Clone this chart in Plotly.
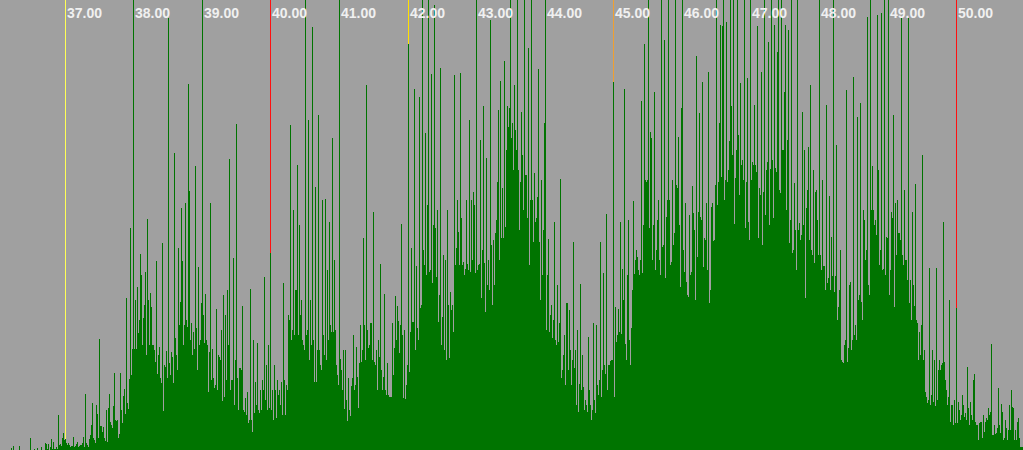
import plotly.graph_objects as go

heights = [
0,0,0,0,0,0,0,0,0,0,
0,2,0,4,0,0,0,0,0,4,
0,0,0,0,0,0,0,0,0,0,
12,0,0,0,1,0,0,2,0,0,
0,3,0,0,0,7,6,1,6,0,
3,11,1,8,1,1,3,1,35,5,
6,4,12,17,10,11,7,5,7,5,
3,4,4,13,3,4,6,8,3,4,
5,5,7,13,3,56,7,5,3,11,
15,25,47,12,10,7,45,36,12,111,
24,24,18,23,12,9,40,8,42,56,
28,25,22,44,77,30,29,30,12,16,
77,40,27,54,61,36,152,47,41,71,
222,75,101,450,101,150,101,163,117,130,
196,175,105,132,145,178,95,231,150,105,
157,143,105,105,100,88,189,76,95,103,
72,67,207,39,85,83,99,72,432,87,
75,98,93,67,297,112,95,80,202,125,
148,242,189,105,125,247,130,123,366,259,
110,127,95,118,101,284,122,80,183,105,
110,147,450,135,107,156,110,105,58,98,
247,70,101,72,62,65,141,60,95,93,
90,120,49,155,53,135,70,160,105,291,
60,70,70,192,45,90,326,72,40,82,
82,80,144,40,38,52,35,58,27,30,
161,30,18,110,37,68,45,107,40,37,
60,40,70,60,173,50,85,40,105,42,
197,40,60,30,85,60,32,70,55,60,
45,68,35,167,70,35,65,60,135,130,
325,110,120,240,115,160,160,285,115,225,
135,150,110,105,100,450,115,120,330,90,
150,105,423,110,68,263,68,100,335,100,
85,80,250,115,95,251,90,180,110,228,
125,118,312,118,190,120,85,75,65,450,
91,80,60,100,41,100,50,29,72,40,
34,64,72,115,60,65,103,73,42,87,
125,88,100,212,125,90,365,120,102,105,
127,127,90,238,88,85,100,60,110,93,
186,80,60,73,156,60,55,87,55,53,
53,53,127,75,102,154,110,144,129,97,
125,226,115,52,120,51,65,85,406,78,
118,202,128,128,361,100,184,122,110,353,
142,145,450,200,185,317,175,245,450,178,
180,376,167,225,445,222,173,240,128,155,
382,105,133,195,100,190,90,240,145,92,
158,140,145,118,375,185,202,250,218,185,
377,232,185,188,175,181,250,186,180,330,
178,250,190,258,245,177,450,180,185,186,
310,152,200,344,187,138,292,165,190,160,
430,205,145,210,165,217,230,268,340,190,
369,212,262,212,389,223,300,344,323,342,
450,312,327,280,365,320,300,450,280,220,
268,338,295,240,450,275,275,232,402,185,
250,450,250,208,277,228,232,253,381,208,
150,270,175,220,327,450,120,175,211,118,
135,145,112,130,228,110,105,165,108,127,
271,72,80,95,115,65,147,147,80,140,
100,65,90,208,82,100,45,120,38,66,
166,60,95,63,40,50,45,38,113,60,
45,30,40,127,50,37,125,65,55,70,
208,53,80,177,85,76,236,60,85,85,
89,90,90,368,53,143,108,115,141,118,
228,116,181,150,361,106,90,175,230,110,
85,122,160,249,176,190,200,193,180,175,
190,349,177,225,406,270,268,270,450,222,
318,312,190,225,358,180,200,230,250,190,
175,450,203,205,410,172,233,250,450,250,
185,188,270,205,217,450,265,262,313,225,
163,342,450,200,178,247,168,155,153,235,
175,178,264,237,220,150,394,193,238,337,
233,230,368,183,212,210,247,180,378,147,
160,243,247,209,210,265,450,245,268,327,
425,273,424,450,250,270,428,268,280,309,
450,344,295,450,226,272,300,450,315,255,
367,285,290,270,450,222,268,372,228,210,
450,270,288,285,345,285,278,424,212,262,
255,378,205,258,450,235,280,288,408,225,
281,450,290,232,425,282,278,398,450,260,
257,450,300,300,358,425,240,310,420,207,
230,450,197,200,267,220,180,450,220,227,
210,215,338,225,300,152,242,260,303,210,
365,200,195,280,187,258,260,230,195,450,
195,180,270,184,184,160,345,167,172,254,
160,213,174,450,158,174,305,130,143,160,
200,90,88,87,105,110,360,88,102,165,
168,100,110,373,115,125,110,333,150,155,
347,148,130,240,230,190,200,433,165,155,
450,240,284,240,225,230,215,435,280,185,
200,437,180,181,450,175,213,212,450,155,
180,238,232,335,143,247,195,250,217,217,
210,433,195,185,260,190,190,170,432,147,
170,130,238,165,144,266,130,127,90,118,
95,125,295,90,100,58,53,47,50,182,
45,55,100,48,90,44,182,50,80,90,
80,85,87,228,88,70,60,45,53,150,
28,45,45,25,50,27,142,27,48,40,
30,35,55,45,33,37,30,83,42,25,
48,35,30,70,76,28,25,25,10,27,
28,28,12,35,18,28,32,30,42,35,
38,106,15,15,25,16,17,22,62,25,
17,46,38,10,12,30,22,10,20,45,
20,60,43,42,10,20,10,28,32,12,
3,3,3,
]
bins = list(range(len(heights)))

marker_bins = [65, 270, 408, 613, 956]
marker_colors = ["#FFFF55", "#FF1010", "#FFE000", "#F0A030", "#FF1010"]
marker_tops = [450, 450, 450, 450, 450]

tick_bins = [65, 133, 202, 270, 339, 408, 476, 545, 613, 682, 750, 819, 888, 956]
tick_labels = ["37.00", "38.00", "39.00", "40.00", "41.00", "42.00", "43.00",
               "44.00", "45.00", "46.00", "47.00", "48.00", "49.00", "50.00"]

fig = go.Figure()
fig.add_trace(go.Bar(x=marker_bins, y=marker_tops, width=1,
                     marker=dict(color=marker_colors, line=dict(width=0)),
                     hoverinfo="skip"))
fig.add_trace(go.Bar(x=bins, y=heights, width=1,
                     marker=dict(color="#007400", line=dict(width=0))))
for b, t in zip(tick_bins, tick_labels):
    fig.add_annotation(x=b, y=1, xref="x", yref="paper", text="<b>" + t + "</b>",
                       showarrow=False, xanchor="left", yanchor="top",
                       xshift=0, yshift=-4, borderpad=0,
                       font=dict(family="Liberation Sans", size=14, color="#F0F0F0"))

fig.update_layout(
    width=1023, height=450, margin=dict(l=0, r=0, t=0, b=0),
    paper_bgcolor="#A0A0A0", plot_bgcolor="#A0A0A0",
    showlegend=False, barmode="overlay", bargap=0,
    xaxis=dict(range=[-0.5, 1022.5], visible=False, fixedrange=True),
    yaxis=dict(range=[0, 450], visible=False, fixedrange=True),
)
fig.write_html("out.html", config={"displayModeBar": False},
               post_script="document.body.style.margin='0';document.documentElement.style.overflow='hidden';")
